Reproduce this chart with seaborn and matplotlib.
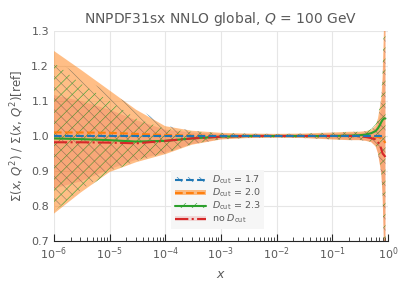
import numpy as np
import matplotlib
matplotlib.use("Agg")
import matplotlib.pyplot as plt
import seaborn as sns
from matplotlib.patches import Patch
from matplotlib.lines import Line2D

# x grid (log)
x = [1e-6, 3e-6, 1e-5, 3e-5, 1e-4, 3e-4, 1e-3, 3e-3, 1e-2, 3e-2, 0.1, 0.2,
     0.3, 0.4, 0.5, 0.6, 0.66, 0.72, 0.76, 0.8, 0.85, 0.9]

# D_cut = 1.7 (reference)
c17 = [1.0] * 22
up17 = [1.220, 1.170, 1.122, 1.082, 1.030, 1.015, 1.009, 1.007, 1.006, 1.007, 1.010, 1.012,
        1.012, 1.014, 1.018, 1.030, 1.050, 1.085, 1.11, 1.17, 1.32, 1.60]
lo17 = [0.790, 0.845, 0.900, 0.928, 0.950, 0.976, 0.990, 0.994, 0.995, 0.994, 0.990, 0.988,
        0.988, 0.986, 0.982, 0.970, 0.950, 0.915, 0.89, 0.83, 0.68, 0.40]

# D_cut = 2.0
c20 = [1.010, 1.010, 1.009, 1.006, 1.003, 1.001, 1.000, 1.000, 1.000, 1.000, 1.000, 1.000,
       1.000, 1.000, 0.999, 0.998, 0.997, 0.995, 0.993, 0.99, 0.985, 0.98]
up20 = [1.243, 1.190, 1.130, 1.075, 1.028, 1.015, 1.009, 1.007, 1.006, 1.007, 1.010, 1.012,
        1.012, 1.014, 1.018, 1.030, 1.050, 1.085, 1.11, 1.17, 1.32, 1.60]
lo20 = [0.778, 0.838, 0.897, 0.925, 0.948, 0.975, 0.990, 0.994, 0.995, 0.994, 0.990, 0.988,
        0.988, 0.986, 0.982, 0.970, 0.950, 0.915, 0.89, 0.83, 0.68, 0.40]

# D_cut = 2.3
c23 = [0.993, 0.991, 0.988, 0.984, 0.986, 0.993, 0.998, 1.000, 1.000, 1.000, 1.000, 1.001,
       1.002, 1.004, 1.008, 1.014, 1.022, 1.032, 1.040, 1.046, 1.05, 1.05]
up23 = [1.210, 1.150, 1.100, 1.050, 1.020, 1.012, 1.008, 1.006, 1.005, 1.006, 1.009, 1.011,
        1.012, 1.015, 1.020, 1.034, 1.056, 1.092, 1.12, 1.19, 1.35, 1.65]
lo23 = [0.785, 0.840, 0.895, 0.930, 0.952, 0.977, 0.991, 0.995, 0.996, 0.995, 0.991, 0.989,
        0.989, 0.987, 0.983, 0.972, 0.952, 0.918, 0.89, 0.83, 0.67, 0.38]

# no D_cut
cno = [0.982, 0.982, 0.981, 0.979, 0.986, 0.993, 0.998, 1.000, 1.000, 1.000, 1.000, 1.000,
       0.999, 0.997, 0.994, 0.990, 0.983, 0.972, 0.962, 0.950, 0.945, 0.94]
upno = [1.117, 1.100, 1.075, 1.045, 1.018, 1.010, 1.006, 1.005, 1.004, 1.005, 1.007, 1.009,
        1.009, 1.010, 1.012, 1.020, 1.035, 1.060, 1.08, 1.13, 1.25, 1.45]
lono = [0.850, 0.870, 0.905, 0.932, 0.952, 0.977, 0.991, 0.995, 0.996, 0.995, 0.991, 0.989,
        0.989, 0.987, 0.983, 0.972, 0.952, 0.918, 0.89, 0.83, 0.68, 0.40]

labels = [r"$D_{\rm cut}$ = 1.7", r"$D_{\rm cut}$ = 2.0", r"$D_{\rm cut}$ = 2.3", r"no $D_{\rm cut}$"]
blue, orange, green, red = sns.color_palette("tab10")[:4]

sns.set_style("whitegrid")
plt.rcParams["hatch.linewidth"] = 0.4
plt.rcParams["font.family"] = ["DejaVu Sans"]
plt.rcParams["text.color"] = "0.35"
plt.rcParams["axes.labelcolor"] = "0.35"
plt.rcParams["xtick.color"] = "0.35"
plt.rcParams["ytick.color"] = "0.35"

fig = plt.figure(figsize=(4.08, 2.89), dpi=100)
ax = fig.add_axes([0.132, 0.166, 0.819, 0.727])

# bands
ax.fill_between(x, lo17, up17, facecolor="none", edgecolor=blue, hatch="\\\\\\", linewidth=0, zorder=1)
ax.fill_between(x, lo20, up20, facecolor=orange, alpha=0.5, linewidth=0, zorder=2)
ax.fill_between(x, lo23, up23, facecolor="none", edgecolor=green, hatch="///", linewidth=0, zorder=3)
ax.fill_between(x, lono, upno, facecolor=red, alpha=0.15, linewidth=0, zorder=4)

# central values
sns.lineplot(x=x, y=c17, ax=ax, color=blue, linestyle="--", linewidth=1.5, zorder=6)
sns.lineplot(x=x, y=c20, ax=ax, color=orange, linestyle="--", linewidth=1.5, zorder=5)
sns.lineplot(x=x, y=c23, ax=ax, color=green, linestyle="-", linewidth=1.5, zorder=5)
sns.lineplot(x=x, y=cno, ax=ax, color=red, linestyle="-.", linewidth=1.5, zorder=5)

ax.set_xscale("log")
ax.set_xlim(1e-6, 1)
ax.set_ylim(0.7, 1.3)
ax.set_yticks([0.7, 0.8, 0.9, 1.0, 1.1, 1.2, 1.3])
ax.set_xticks([1e-6, 1e-5, 1e-4, 1e-3, 1e-2, 1e-1, 1])
ax.grid(True, which="major", color="0.9", linewidth=0.8)
ax.grid(False, which="minor")
for s in ["left", "right", "top"]:
    ax.spines[s].set_visible(False)
ax.spines["bottom"].set_color("0.15")
ax.spines["bottom"].set_linewidth(0.8)
ax.tick_params(axis="x", which="major", direction="in", length=5, width=0.8, bottom=True, color="0.15", labelsize=8)
ax.tick_params(axis="x", which="minor", direction="in", length=3, width=0.6, bottom=True, color="0.15")
ax.tick_params(axis="y", length=0, labelsize=8)

ax.set_title(r"NNPDF31sx NNLO global, $Q$ = 100 GeV", fontsize=10, color="0.35")
ax.set_xlabel(r"$x$", fontsize=9)
ax.set_ylabel(r"$\Sigma(x,\,Q^2)$ / $\Sigma(x,\,Q^2)$[ref]", fontsize=8.5)

handles = [
    (Patch(facecolor="none", edgecolor=blue, hatch="\\\\\\", linewidth=0),
     Line2D([], [], color=blue, linestyle="--", linewidth=1.5)),
    (Patch(facecolor=orange, alpha=0.5, linewidth=0),
     Line2D([], [], color=orange, linestyle="--", linewidth=1.5)),
    (Patch(facecolor="none", edgecolor=green, hatch="///", linewidth=0),
     Line2D([], [], color=green, linestyle="-", linewidth=1.5)),
    (Patch(facecolor=red, alpha=0.15, linewidth=0),
     Line2D([], [], color=red, linestyle="-.", linewidth=1.5)),
]
leg = ax.legend(handles, labels, loc="lower center", bbox_to_anchor=(0.49, 0.035),
                fontsize=6.8, frameon=True, fancybox=False, handlelength=3.3,
                handleheight=0.5, labelspacing=0.05, borderpad=0.4, handletextpad=0.6)
leg.get_frame().set_facecolor("0.965")
leg.get_frame().set_edgecolor("none")
leg.get_frame().set_alpha(1)
leg.set_zorder(10)

fig.savefig("out.png", dpi=100)
